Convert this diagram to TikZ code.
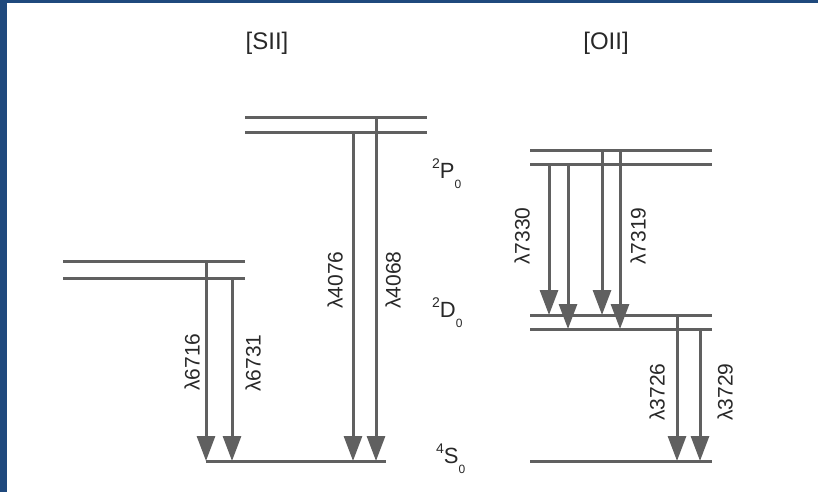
\documentclass[tikz,border=0pt]{standalone}
\usepackage{fontspec}
\setmainfont{Liberation Sans}
\usepackage{tikz}
\usetikzlibrary{arrows.meta}
\definecolor{frame}{RGB}{31,73,125}
\definecolor{level}{RGB}{96,96,96}
\definecolor{ink}{RGB}{40,40,40}
\newcommand{\termsym}[2]{\raisebox{10pt}{\fontsize{14}{14}\selectfont #1}#2\raisebox{-10pt}{\fontsize{12}{12}\selectfont 0}}
\tikzset{
  lev/.style={draw=level, line width=3pt},
  trans/.style={draw=level, line width=3pt, -{Triangle[length=25pt, width=18pt]}},
  wl/.style={text=ink, rotate=90, inner sep=0pt, font=\fontsize{21}{21}\selectfont},
  ion/.style={text=ink, inner sep=0pt, font=\fontsize{24}{24}\selectfont},
  term/.style={text=ink, anchor=base west, inner sep=0pt, font=\fontsize{22}{22}\selectfont}
}
\begin{document}
\begin{tikzpicture}[x=1pt, y=-1pt]
  \useasboundingbox (0,0) rectangle (818,492);
  \fill[frame] (0,0) rectangle (7,492);
  \fill[frame] (0,0) rectangle (818,3);

  \node[ion] (sii) at (267,43) {[SII]};
  \node[ion] (oii) at (606,43) {[OII]};

  % energy levels
  \foreach \name/\xa/\xb/\y in {sP1/245/427/117, sP2/245/427/132, sD1/63/245/261, sD2/63/245/278,
      sS/206/386/461, oP1/530/712/150, oP2/530/712/164, oD1/530/712/315, oD2/530/712/329, oS/530/712/461}{
    \coordinate (\name) at (\xa,\y);
    \draw[lev] (\name) -- (\xb,\y);
  }

  % transitions
  \foreach \x/\from/\to in {206/sD1/sS, 232/sD2/sS, 353/sP2/sS, 376/sP1/sS, 549/oP2/oD1,
      568/oP2/oD2, 602/oP1/oD1, 620/oP1/oD2, 677/oD1/oS, 700/oD2/oS}{
    \coordinate (col) at (\x,0);
    \draw[trans] (col |- \from) -- (col |- \to);
  }

  \node[wl] (w6716) at (192,362) {λ6716};
  \node[wl] (w6731) at (253,363) {λ6731};
  \node[wl] (w4076) at (335,280) {λ4076};
  \node[wl] (w4068) at (393,280) {λ4068};
  \node[wl] (w7330) at (522,236) {λ7330};
  \node[wl] (w7319) at (638,236) {λ7319};
  \node[wl] (w3726) at (657,392) {λ3726};
  \node[wl] (w3729) at (725,392) {λ3729};

  \node[term] (tP) at (432,178) {\termsym{2}{P}};
  \node[term] (tD) at (432,317) {\termsym{2}{D}};
  \node[term] (tS) at (436,463) {\termsym{4}{S}};
\end{tikzpicture}
\end{document}
